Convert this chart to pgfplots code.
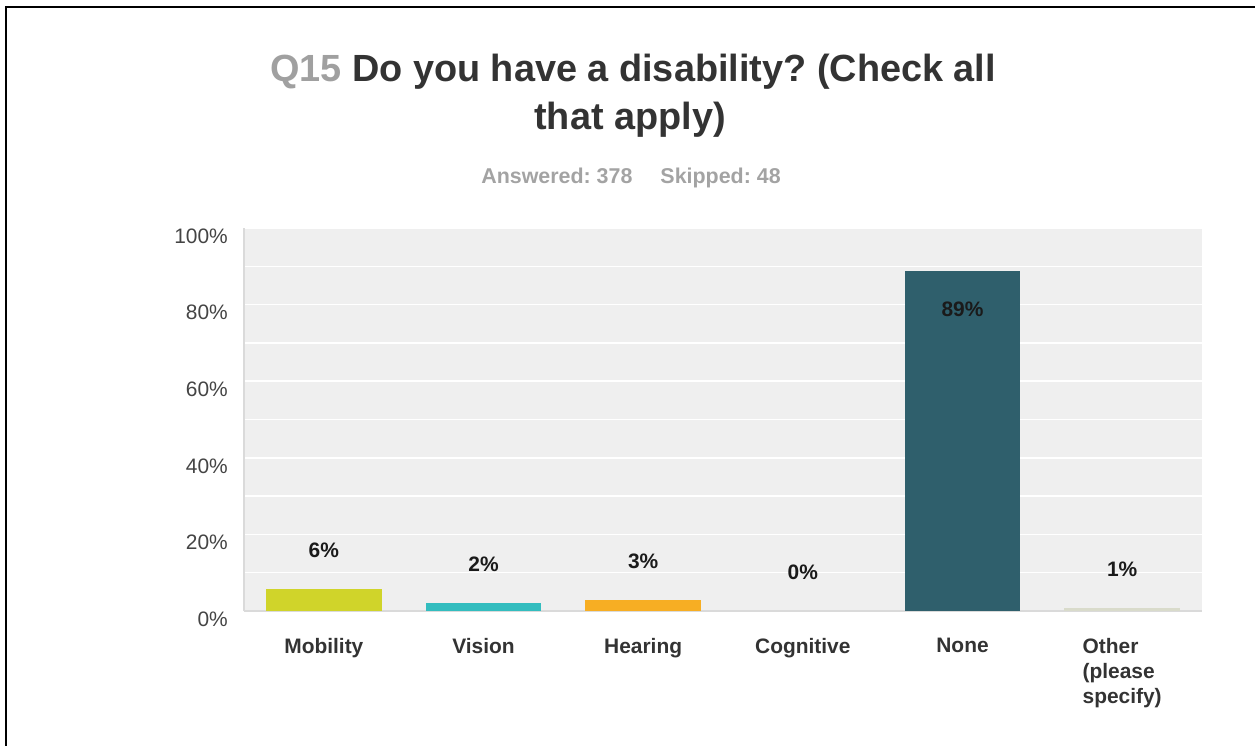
\documentclass[border=0pt]{standalone}
\usepackage{fontspec}
\setmainfont{Liberation Sans}
\usepackage{pgfplots}
\pgfplotsset{compat=1.18}
\frenchspacing
\definecolor{bgc}{HTML}{EFEFEF}
\definecolor{axc}{HTML}{DADADA}
\definecolor{titc}{HTML}{333333}
\definecolor{qc}{HTML}{A0A0A0}
\definecolor{subc}{HTML}{A3A3A3}
\definecolor{tickc}{HTML}{444444}
\definecolor{catc}{HTML}{333333}
\definecolor{labc}{HTML}{1A1A1A}
\definecolor{cMob}{HTML}{D0D42A}
\definecolor{cVis}{HTML}{33BDBF}
\definecolor{cHea}{HTML}{F7AE23}
\definecolor{cNon}{HTML}{2F5F6C}
\definecolor{cOth}{HTML}{D9DBCB}
\pgfplotsset{
  lab/.style={nodes near coords={#1},
    every node near coord/.append style={anchor=center, yshift=38.3bp, inner sep=0pt,
      font=\fontsize{21}{25}\selectfont\bfseries, text=labc}},
  labin/.style={nodes near coords={#1},
    every node near coord/.append style={anchor=center, yshift=-38.3bp, inner sep=0pt,
      font=\fontsize{21}{25}\selectfont\bfseries, text=labc}},
}
\begin{document}
\begin{tikzpicture}[x=1bp,y=1bp]
\path[use as bounding box] (0,0) rectangle (1255,-746);
\draw[black, line width=2bp] (6,-746) -- (6,-7) -- (1255,-7);
\node[anchor=base, inner sep=0pt, font=\fontsize{38}{45}\selectfont\bfseries, text=titc] at (633,-82)
  {\textcolor{qc}{Q15} Do you have a disability? (Check all};
\node[anchor=base, inner sep=0pt, font=\fontsize{38}{45}\selectfont\bfseries, text=titc] at (630,-129)
  {that apply)};
\node[anchor=base, inner sep=0pt, font=\fontsize{21.5}{25}\selectfont\bfseries, text=subc] at (631,-183)
  {Answered: 378\hspace{28bp}Skipped: 48};
\begin{axis}[
  at={(244bp,-611bp)}, anchor=south west,
  scale only axis, width=958bp, height=383bp,
  ybar, bar width=115.5bp,
  xmin=-0.5, xmax=5.5, ymin=0, ymax=100,
  xtick={0,1,2,3,4,5},
  xticklabels={Mobility,Vision,Hearing,Cognitive,None,{Other\\(please\\specify)}},
  ytick={0,20,40,60,80,100},
  yticklabels={0\%,20\%,40\%,60\%,80\%,100\%},
  minor ytick={10,30,50,70,90},
  ymajorgrids, yminorgrids,
  grid style={white, line width=1.5bp},
  minor grid style={white, line width=1.5bp},
  major tick length=0pt, minor tick length=0pt,
  axis x line*=bottom, axis y line*=left,
  axis line style={draw=axc, line width=2bp},
  axis background/.style={fill=bgc},
  yticklabel style={font=\fontsize{21}{25}\selectfont, text=tickc, anchor=east, inner sep=0pt, xshift=-16bp, yshift=-8bp},
  xticklabel style={font=\fontsize{21}{25}\selectfont\bfseries, text=catc, anchor=north, align=left, inner sep=0pt, yshift=-27bp},
]
\addplot[fill=cMob, draw=none, bar shift=0pt, lab={6\%}] coordinates {(0,5.8)};
\addplot[fill=cVis, draw=none, bar shift=0pt, lab={2\%}] coordinates {(1,2.1)};
\addplot[fill=cHea, draw=none, bar shift=0pt, lab={3\%}] coordinates {(2,2.9)};
\addplot[fill=none, draw=none, bar shift=0pt, lab={0\%}] coordinates {(3,0)};
\addplot[fill=cNon, draw=none, bar shift=0pt, labin={89\%}] coordinates {(4,88.9)};
\addplot[fill=cOth, draw=none, bar shift=0pt, lab={1\%}] coordinates {(5,0.8)};
\end{axis}
\end{tikzpicture}
\end{document}
